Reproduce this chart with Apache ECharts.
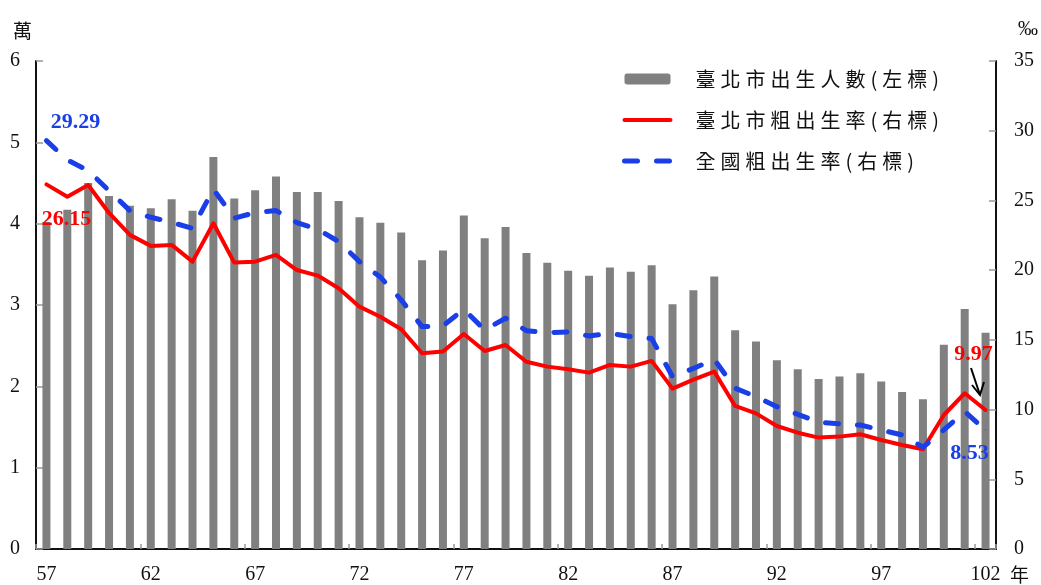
<!DOCTYPE html>
<html>
<head>
<meta charset="utf-8">
<script src="https://cdn.jsdelivr.net/npm/echarts@6/dist/echarts.min.js"></script>
<style>
html,body{margin:0;padding:0;background:#fff;}
#main{width:1041px;height:585px;}
</style>
</head>
<body>
<div id="main"></div>
<script>
const years = ['57','58','59','60','61','62','63','64','65','66','67','68','69','70','71','72','73','74','75','76','77','78','79','80','81','82','83','84','85','86','87','88','89','90','91','92','93','94','95','96','97','98','99','100','101','102'];
const taipeiBirths = [4.02,4.17,4.50,4.34,4.22,4.19,4.30,4.16,4.82,4.31,4.41,4.58,4.39,4.39,4.28,4.08,4.01,3.89,3.55,3.67,4.10,3.82,3.96,3.64,3.52,3.42,3.36,3.46,3.41,3.49,3.01,3.18,3.35,2.69,2.55,2.32,2.21,2.09,2.12,2.16,2.06,1.93,1.84,2.51,2.95,2.66];
const taipeiRate = [26.15,25.27,26.11,24.1,22.53,21.74,21.81,20.61,23.36,20.54,20.61,21.09,20.01,19.61,18.70,17.38,16.66,15.76,14.04,14.16,15.42,14.20,14.63,13.43,13.08,12.89,12.65,13.20,13.08,13.49,11.50,12.15,12.72,10.26,9.73,8.82,8.34,7.99,8.06,8.23,7.82,7.46,7.15,9.61,11.17,9.97];
const nationalRate = [29.29,27.9,27.14,25.7,24.27,23.79,23.43,23.0,25.8,23.72,24.13,24.27,23.41,22.93,22.05,20.61,19.5,17.86,15.95,16.0,17.19,15.71,16.55,15.66,15.52,15.57,15.28,15.47,15.23,15.09,12.36,12.95,13.6,11.53,10.93,10.21,9.66,9.09,8.97,8.89,8.54,8.18,7.30,8.54,9.85,8.53];
const seriesNames = ['臺北市出生人數(左標)','臺北市粗出生率(右標)','全國粗出生率(右標)'];

const serif = 'Liberation Serif, Times New Roman, serif';
const cjk = 'Noto Sans CJK TC, sans-serif';

function labelStyle(color, extra) {
  return Object.assign({show: true, color: color, fontFamily: serif, fontWeight: 'bold', fontSize: 22,
    formatter: function(p){ return Number(p.value).toFixed(2); }}, extra);
}
function withEndLabels(values, color, firstLabel, lastLabel) {
  return values.map((v, i) => {
    if (i === 0) return {value: v, symbol: 'circle', symbolSize: 1, label: labelStyle(color, firstLabel)};
    if (i === values.length - 1) return {value: v, symbol: 'circle', symbolSize: 1, label: labelStyle(color, lastLabel)};
    return v;
  });
}

const chart = echarts.init(document.getElementById('main'), null, {renderer: 'canvas'});
chart.setOption({
  animation: false,
  backgroundColor: '#fff',
  grid: {left: 36, right: 44, top: 61, bottom: 36, containLabel: false},
  legend: {
    orient: 'vertical',
    left: 617,
    top: 62,
    itemWidth: 46,
    itemHeight: 11,
    itemGap: 17,
    data: [
      {name: seriesNames[0]},
      {name: seriesNames[1], itemStyle: {opacity: 0}, lineStyle: {width: 4, color: '#ff0000'}},
      {name: seriesNames[2], itemStyle: {opacity: 0}, lineStyle: {width: 5, color: '#1a3ee8', type: [13, 19], cap: 'round'}}
    ],
    textStyle: {fontFamily: cjk, fontSize: 20, color: '#111', lineHeight: 24, padding: [0,0,0,20]},
    formatter: function(name){ return name.split('').join('\u2005'); }
  },
  xAxis: {
    type: 'category',
    data: years,
    boundaryGap: true,
    name: '年',
    nameLocation: 'end',
    nameGap: 14,
    nameTextStyle: {fontFamily: cjk, fontSize: 19, color: '#111', verticalAlign: 'top', padding: [16,0,0,0]},
    axisLine: {lineStyle: {color: '#111', width: 2}},
    axisTick: {show: true, inside: true, length: 5, lineStyle: {color: '#999', width: 1.5}},
    axisLabel: {interval: 4, margin: 16, fontFamily: serif, fontSize: 20, color: '#111'},
    splitLine: {show: false}
  },
  yAxis: [
    {
      type: 'value', min: 0, max: 6, interval: 1,
      name: '萬', nameLocation: 'end', nameGap: 21,
      nameTextStyle: {fontFamily: cjk, fontSize: 19, color: '#111', align: 'right', padding: [0,4,0,0]},
      axisLine: {show: true, lineStyle: {color: '#111', width: 2}},
      axisTick: {show: true, inside: true, length: 7, lineStyle: {color: '#999', width: 1.5}},
      axisLabel: {margin: 16, fontFamily: serif, fontSize: 20, color: '#111'},
      splitLine: {show: false}
    },
    {
      type: 'value', min: 0, max: 35, interval: 5,
      name: '‰', nameLocation: 'end', nameGap: 21,
      nameTextStyle: {fontFamily: serif, fontSize: 20, color: '#111', align: 'left', padding: [0,0,0,22]},
      axisLine: {show: true, lineStyle: {color: '#111', width: 2}},
      axisTick: {show: true, inside: true, length: 7, lineStyle: {color: '#999', width: 1.5}},
      axisLabel: {margin: 18, fontFamily: serif, fontSize: 20, color: '#111'},
      splitLine: {show: false}
    }
  ],
  series: [
    {
      name: seriesNames[0], type: 'bar', yAxisIndex: 0,
      data: taipeiBirths, barWidth: 8,
      itemStyle: {color: '#808080'}
    },
    {
      name: seriesNames[1], type: 'line', yAxisIndex: 1,
      data: withEndLabels(taipeiRate, '#ff0000', {position: 'bottom', offset: [20, 18]}, {position: 'top', offset: [-12, -39]}),
      symbol: 'none', showSymbol: true,
      lineStyle: {color: '#ff0000', width: 4, cap: 'round', join: 'round'},
      itemStyle: {color: '#ff0000'},
      z: 3
    },
    {
      name: seriesNames[2], type: 'line', yAxisIndex: 1,
      data: withEndLabels(nationalRate, '#1a3ee8', {position: 'top', offset: [29, -2]}, {position: 'bottom', offset: [-16, 7]}),
      symbol: 'none', showSymbol: true,
      lineStyle: {color: '#1a3ee8', width: 5, type: [13, 19], cap: 'round', join: 'round'},
      itemStyle: {color: '#1a3ee8'},
      z: 4
    }
  ],
  graphic: [
    {type: 'line', shape: {x1: 971, y1: 368, x2: 980, y2: 395}, style: {stroke: '#000', lineWidth: 2}, z: 10},
    {type: 'polyline', shape: {points: [[972, 385], [980, 395], [984, 382]]}, style: {stroke: '#000', lineWidth: 2, fill: null}, z: 10}
  ]
});
</script>
</body>
</html>
